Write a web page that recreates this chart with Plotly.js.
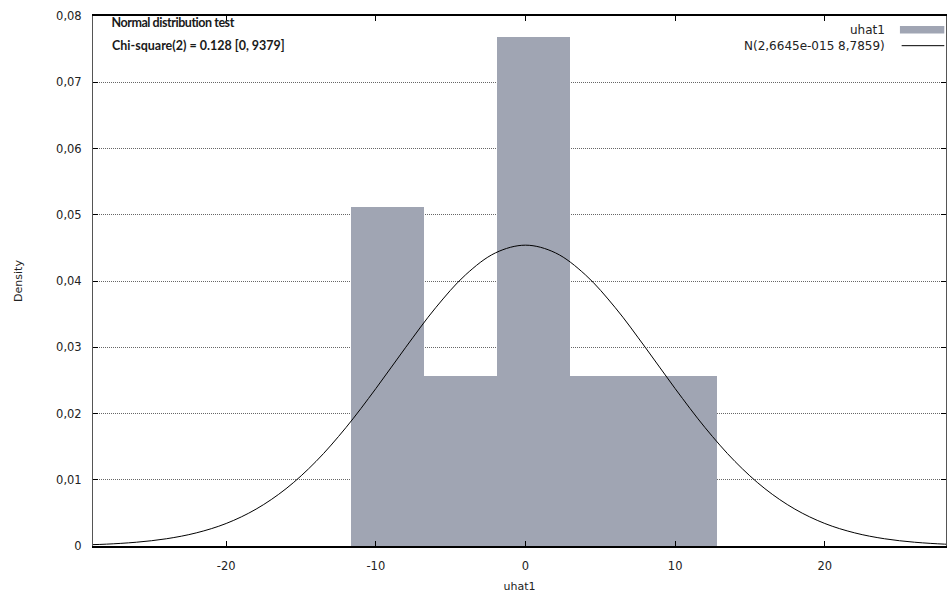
<!DOCTYPE html>
<html>
<head>
<meta charset="utf-8">
<script src="https://cdn.plot.ly/plotly-3.0.1.min.js"></script>
<style>
html,body{margin:0;padding:0;background:#fff;}
#chart{width:947px;height:594px;}
.annotation[data-index="0"] text {letter-spacing:-0.45px;}
</style>
</head>
<body>
<div id="chart"></div>
<script>
// Histogram of uhat1 (density)
const binCenters = [-9.235, -4.345, 0.545, 5.435, 10.325];
const binWidth = 4.89;
const densities = [0.0512, 0.0256, 0.0768, 0.0256, 0.0256];

// Normal density curve N(2,6645e-015, 8,7859)
const curveX = [-29, -28, -26, -24, -22, -20, -18, -16, -14, -12, -10, -8, -6, -4, -2, 0,
                 2, 4, 6, 8, 10, 12, 14, 16, 18, 20, 22, 24, 26, 28, 29];
const curveY = [0.0002, 0.00028, 0.00057, 0.00109, 0.00198, 0.0034, 0.00557, 0.00865, 0.01276, 0.01787, 0.02376, 0.03, 0.03597, 0.04094, 0.04425, 0.04541,
                0.04425, 0.04094, 0.03597, 0.03, 0.02376, 0.01787, 0.01276, 0.00865, 0.00557, 0.0034, 0.00198, 0.00109, 0.00057, 0.00028, 0.0002];

const yTickVals = [0, 0.01, 0.02, 0.03, 0.04, 0.05, 0.06, 0.07, 0.08];
const yTickText = ['0', '0,01', '0,02', '0,03', '0,04', '0,05', '0,06', '0,07', '0,08'];
const xTickVals = [-20, -10, 0, 10, 20];
const xTickText = ['-20', '-10', '0', '10', '20'];

const seriesNames = ['uhat1', 'N(2,6645e-015 8,7859)'];
const testTitle = 'Normal distribution test';
const testStat = 'Chi-square(2) = 0.128 [0, 9379]';

const barColor = '#a0a5b3';
const sansFont = 'DejaVu Sans, Liberation Sans, sans-serif';
const tickFont = {family: sansFont, size: 11.5, color: '#222'};
const boxFont = {family: 'Lato, Liberation Sans, sans-serif', size: 12.5, color: '#1a1a1a', weight: 700};

const traces = [
  {
    type: 'bar', name: seriesNames[0], x: binCenters, y: densities,
    width: binCenters.map(() => binWidth),
    marker: {color: barColor, line: {width: 0}},
    showlegend: false, hoverinfo: 'x+y'
  },
  {
    type: 'scatter', mode: 'lines', name: seriesNames[1], x: curveX, y: curveY,
    line: {color: '#000', width: 1, shape: 'spline'},
    showlegend: false
  }
];

const layout = {
  width: 947, height: 594,
  margin: {l: 93, r: 1, t: 16, b: 48},
  paper_bgcolor: '#fff', plot_bgcolor: '#fff',
  showlegend: false,
  bargap: 0,
  xaxis: {
    range: [-28.9, 28.1], tickvals: xTickVals, ticktext: xTickText,
    ticks: 'inside', ticklen: 5, tickcolor: '#000', tickwidth: 1,
    showline: true, linecolor: '#000', linewidth: 2, mirror: 'ticks',
    showgrid: false, zeroline: false,
    tickfont: tickFont, ticklabelstandoff: 8,
    title: {text: 'uhat1', font: {family: sansFont, size: 11, color: '#222'}}
  },
  yaxis: {
    range: [0, 0.08], tickvals: yTickVals, ticktext: yTickText,
    ticks: 'inside', ticklen: 5, tickcolor: '#000', tickwidth: 1,
    showline: true, linecolor: '#555', linewidth: 1, mirror: 'ticks',
    showgrid: true, gridcolor: '#666', griddash: '1px,1px', gridwidth: 1,
    zeroline: false, automargin: true,
    tickfont: tickFont, ticklabelstandoff: 8,
    title: {text: 'Density', font: {family: sansFont, size: 11, color: '#222'}, standoff: 31}
  },
  annotations: [
    {xref: 'paper', yref: 'paper', x: 0.0129, y: 1.006, xanchor: 'left', yanchor: 'top', showarrow: false,
     text: testTitle, font: boxFont},
    {xref: 'paper', yref: 'paper', x: 0.0200, y: 0.962, xanchor: 'left', yanchor: 'top', showarrow: false,
     text: testStat, font: boxFont},
    {xref: 'paper', yref: 'paper', x: 0.931, y: 0.9735, xanchor: 'right', yanchor: 'middle', showarrow: false,
     text: seriesNames[0], font: {family: sansFont, size: 12, color: '#222'}},
    {xref: 'paper', yref: 'paper', x: 0.931, y: 0.944, xanchor: 'right', yanchor: 'middle', showarrow: false,
     text: seriesNames[1], font: {family: sansFont, size: 12, color: '#222'}}
  ],
  shapes: [
    {type: 'rect', xref: 'paper', yref: 'paper', x0: 0.946, x1: 0.998, y0: 0.967, y1: 0.981,
     fillcolor: barColor, line: {width: 0}},
    {type: 'line', xref: 'paper', yref: 'paper', x0: 0.948, x1: 0.998, y0: 0.944, y1: 0.944,
     line: {color: '#000', width: 1}}
  ]
};

Plotly.newPlot('chart', traces, layout, {displayModeBar: false, staticPlot: true});
</script>
</body>
</html>
